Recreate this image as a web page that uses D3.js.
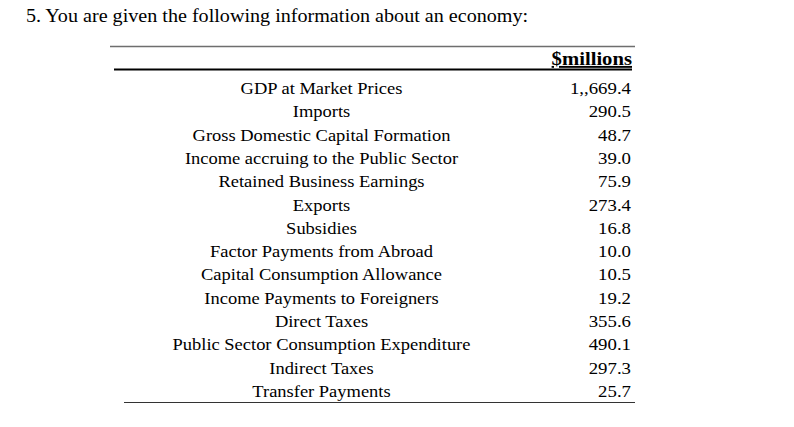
<!DOCTYPE html>
<html><head><meta charset="utf-8">
<script src="https://cdn.jsdelivr.net/npm/d3@7"></script>
<style>html,body{margin:0;padding:0;background:#fff;}</style>
</head><body>
<script>
const title = "5. You are given the following information about an economy:";
const header = "$millions";
const items = ["GDP at Market Prices","Imports","Gross Domestic Capital Formation","Income accruing to the Public Sector","Retained Business Earnings","Exports","Subsidies","Factor Payments from Abroad","Capital Consumption Allowance","Income Payments to Foreigners","Direct Taxes","Public Sector Consumption Expenditure","Indirect Taxes","Transfer Payments"];
const values = [1669.4,290.5,48.7,39.0,75.9,273.4,16.8,10.0,10.5,19.2,355.6,490.1,297.3,25.7];
const valueLabels = ["1,,669.4","290.5","48.7","39.0","75.9","273.4","16.8","10.0","10.5","19.2","355.6","490.1","297.3","25.7"];

const W = 794, H = 427;
const svg = d3.select("body").append("svg").attr("width", W).attr("height", H)
  .style("font-family", "'Liberation Serif','Times New Roman',serif");

const SX = 1.1;
// title
svg.append("text").attr("transform", `translate(26,21.5) scale(${SX},1)`)
  .attr("font-size", 18.3).attr("fill", "#000").text(title);

// rules
svg.append("line").attr("x1",110).attr("x2",635).attr("y1",46.5).attr("y2",46.5)
  .attr("stroke","#6e6e6e").attr("stroke-width",1.5);
svg.append("line").attr("x1",114).attr("x2",632).attr("y1",69.5).attr("y2",69.5)
  .attr("stroke","#000").attr("stroke-width",2);
svg.append("line").attr("x1",124).attr("x2",635).attr("y1",402.5).attr("y2",402.5)
  .attr("stroke","#333").attr("stroke-width",1.2);

// header
svg.append("text").attr("transform", `translate(632,65) scale(${SX},1)`)
  .attr("text-anchor","end").attr("font-size", 18.8).attr("font-weight","bold")
  .style("text-decoration","underline").text(header);

const y = d3.scalePoint().domain(items).range([94, 397]);

const rows = svg.append("g");
rows.selectAll("text.lab").data(items).join("text").attr("class","lab")
  .attr("transform", d => `translate(321.5,${y(d)}) scale(${SX},1)`)
  .attr("text-anchor","middle").attr("font-size", 16.8).attr("fill","#000").text(d => d);

rows.selectAll("text.val").data(items).join("text").attr("class","val")
  .attr("transform", (d,i) => `translate(631,${y(d)}) scale(${SX},1)`)
  .attr("text-anchor","end").attr("font-size", 17.1).attr("fill","#000")
  .text((d,i) => valueLabels[i]);
</script>
</body></html>
